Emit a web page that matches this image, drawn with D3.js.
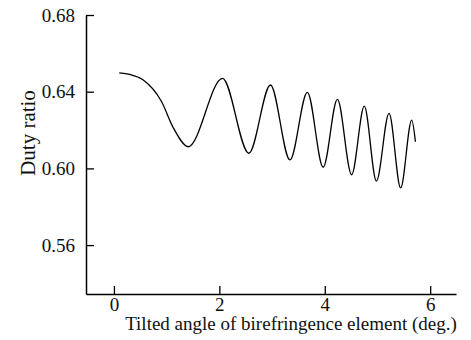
<!DOCTYPE html>
<html><head><meta charset="utf-8">
<script src="https://cdn.jsdelivr.net/npm/d3@7"></script>
<style>body{margin:0;background:#fff;}svg{display:block;} text{font-family:"Liberation Serif","DejaVu Serif",serif;}</style>
</head><body>
<script>
const angle = [0.10, 0.30, 0.55, 0.90, 1.13, 1.41, 2.06, 2.56, 2.97, 3.34, 3.67, 3.97, 4.24, 4.51, 4.75, 4.98, 5.22, 5.44, 5.65, 5.72];
const duty  = [0.6498, 0.6490, 0.6462, 0.6350, 0.6210, 0.6113, 0.6470, 0.6079, 0.6435, 0.6044, 0.6397, 0.6006, 0.6360, 0.5967, 0.6325, 0.5934, 0.6287, 0.5898, 0.6252, 0.6139];
const xTicks = [0, 2, 4, 6];
const yTicks = [0.56, 0.60, 0.64, 0.68];
const xTitle = "Tilted angle of birefringence element (deg.)";
const yTitle = "Duty ratio";

const W = 471, H = 340;
const svg = d3.select("body").append("svg").attr("width", W).attr("height", H);
const x = d3.scaleLinear().domain([-0.53, 6.49]).range([86, 456]);
const y = d3.scaleLinear().domain([0.5345, 0.68]).range([294, 15]);
const font = "Liberation Serif";

const xa = svg.append("g").attr("transform", "translate(0,294)")
  .call(d3.axisBottom(x).tickValues(xTicks).tickSize(-8).tickPadding(3).tickFormat(d3.format("d")).tickSizeOuter(0));
const ya = svg.append("g").attr("transform", "translate(86,0)")
  .call(d3.axisLeft(y).tickValues(yTicks).tickSize(-8).tickPadding(11).tickFormat(d3.format(".2f")).tickSizeOuter(0));
[xa, ya].forEach(g => {
  g.attr("font-family", font);
  g.select(".domain").attr("stroke", "#000").attr("stroke-width", 1.5);
  g.selectAll(".tick line").attr("stroke", "#000").attr("stroke-width", 1.3);
  g.selectAll(".tick text").attr("fill", "#111").attr("font-family", font).style("font-size", "19px");
});

const pts = angle.map((a, i) => [a, duty[i]]);
svg.append("path").datum(pts)
  .attr("fill", "none").attr("stroke", "#000").attr("stroke-width", 1.3)
  .attr("d", d3.line().x(d => x(d[0])).y(d => y(d[1])).curve(d3.curveMonotoneX));

svg.append("text").attr("x", 291).attr("y", 330).attr("text-anchor", "middle")
  .attr("font-family", font).style("font-size", "19px").attr("fill", "#111").text(xTitle);
svg.append("text").attr("transform", "translate(35,133) rotate(-90)").attr("text-anchor", "middle")
  .attr("font-family", font).style("font-size", "21px").attr("fill", "#111").text(yTitle);
</script>
</body></html>
